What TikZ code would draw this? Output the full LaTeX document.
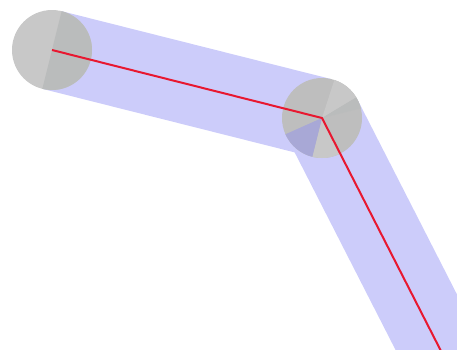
\documentclass[tikz,border=0pt]{standalone}
\usetikzlibrary{calc}
\definecolor{bandblue}{RGB}{204,204,250}
\definecolor{jointgray}{RGB}{190,190,190}
\definecolor{jointlight}{RGB}{200,200,200}
\definecolor{jointdark}{RGB}{186,188,188}
\definecolor{wedgeblue}{RGB}{168,168,214}
\definecolor{linkred}{RGB}{232,24,48}
\tikzset{
  bandfill/.style={fill=bandblue, draw=none},
  jointfill/.style={fill=jointgray, draw=none},
  linkline/.style={draw=linkred, line width=2pt, line join=miter}
}
\begin{document}
\begin{tikzpicture}[x=1pt,y=-1pt]
\useasboundingbox (0,0) rectangle (457,349);
\clip (0,0) rectangle (457,349);
\coordinate (A) at (52,50);
\coordinate (B) at (322,118);
\coordinate (C) at (440,349);
\coordinate (D) at (466,400);
% bands
\fill[bandfill] ($(A)+(-9.77,38.8)$) -- ($(B)+(-9.77,38.8)$) -- ($(B)+(9.77,-38.8)$) -- ($(A)+(9.77,-38.8)$) -- cycle;
\fill[bandfill] ($(B)+(-35.6,18.2)$) -- ($(D)+(-35.6,18.2)$) -- ($(D)+(35.6,-18.2)$) -- ($(B)+(35.6,-18.2)$) -- cycle;
% joint 1
\node[circle, minimum size=80pt, inner sep=0pt, jointfill, fill=jointlight] (J1) at (A) {};
\fill[jointdark] (A) -- ++(-76:40) arc[start angle=-76, end angle=104, radius=40] -- cycle;
% joint 2
\node[circle, minimum size=80pt, inner sep=0pt, jointfill] (J2) at (B) {};
\fill[jointlight] (B) -- ++(-72:40) arc[start angle=-72, end angle=-31, radius=40] -- cycle;
\fill[jointdark] (B) -- ++(-31:40) arc[start angle=-31, end angle=-14, radius=40] -- cycle;
\fill[jointlight] (B) -- ++(63:40) arc[start angle=63, end angle=104, radius=40] -- cycle;
\fill[wedgeblue] (B) -- ++(104:40) arc[start angle=104, end angle=156, radius=40] -- cycle;
% link
\draw[linkline] (A) -- (B) -- (D);
\end{tikzpicture}
\end{document}
